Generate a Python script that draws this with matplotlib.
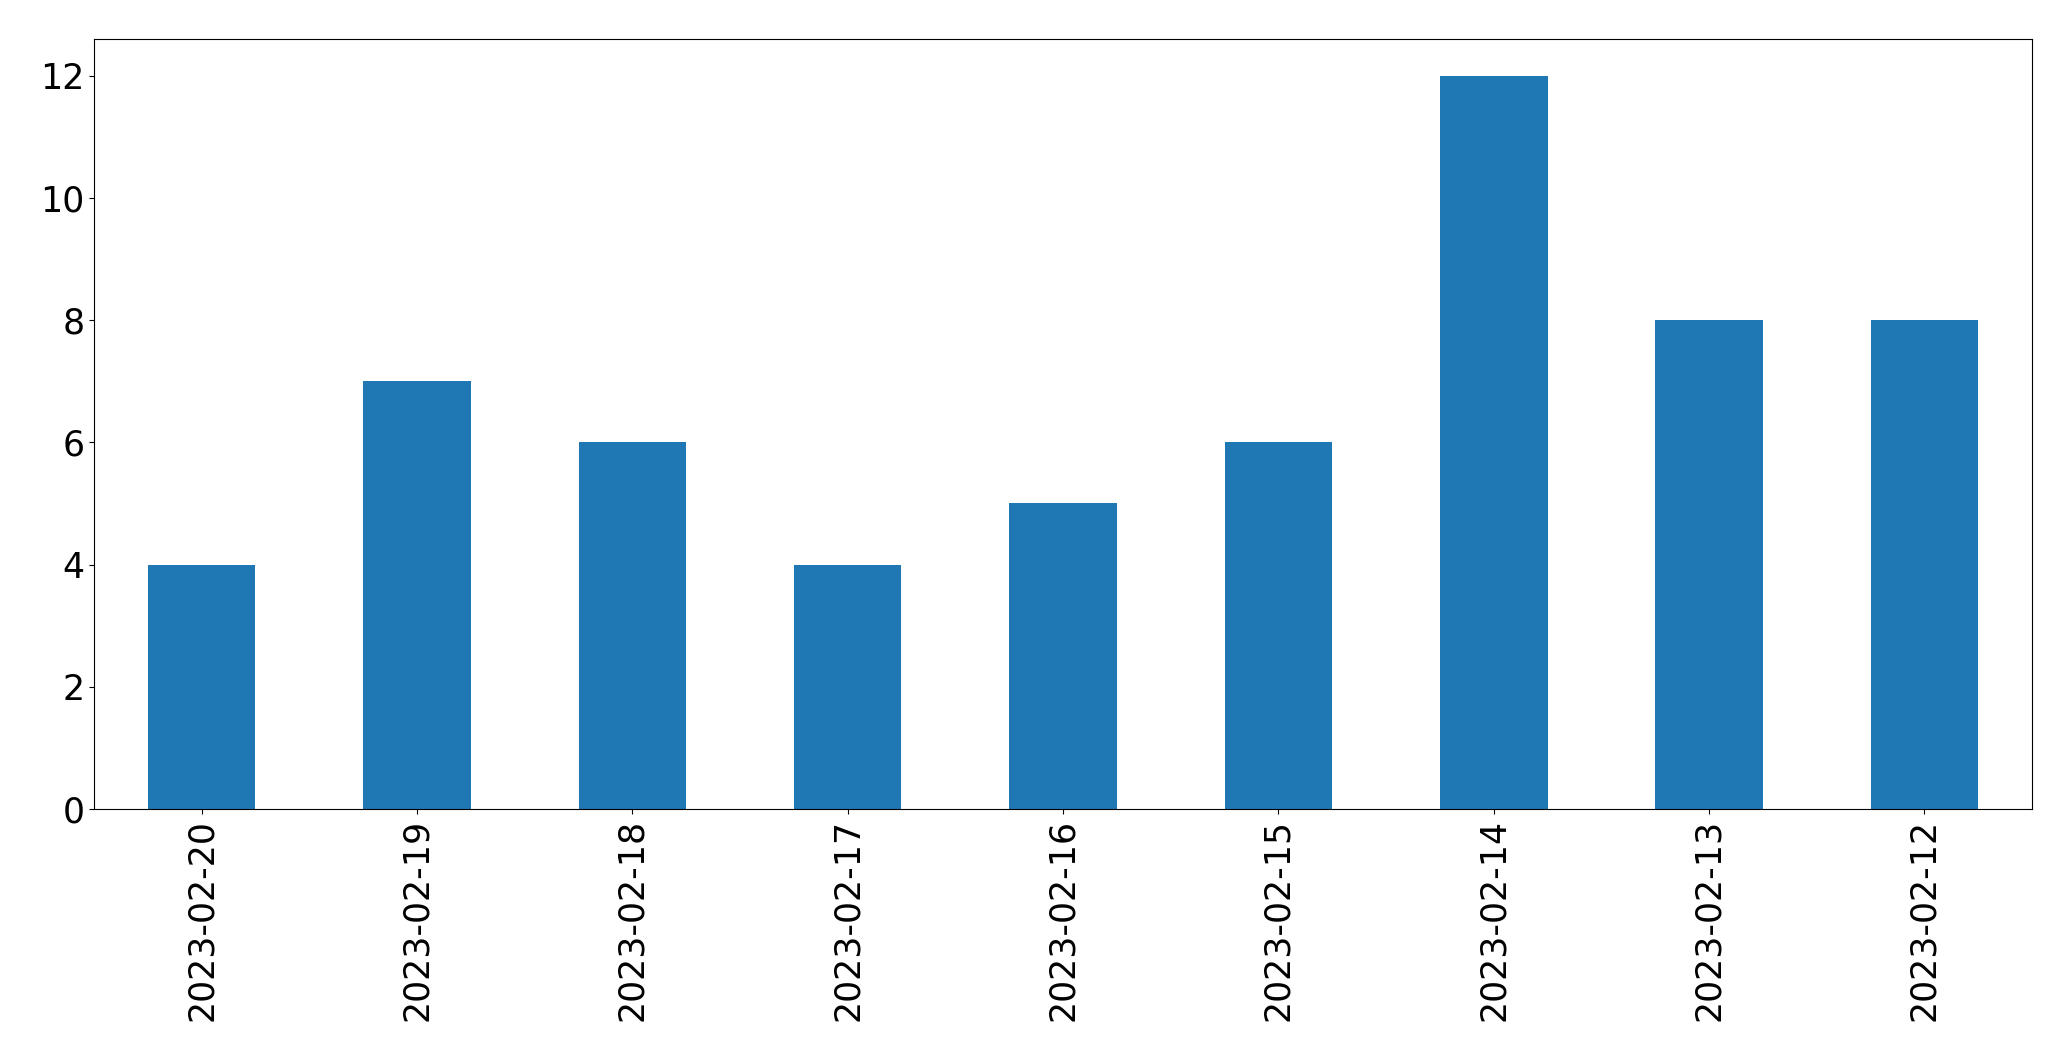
import matplotlib
matplotlib.use("Agg")
import matplotlib.pyplot as plt
import pandas as pd

datas = ["2023-02-20", "2023-02-19", "2023-02-18", "2023-02-17", "2023-02-16",
         "2023-02-15", "2023-02-14", "2023-02-13", "2023-02-12"]
totais = [4, 7, 6, 4, 5, 6, 12, 8, 8]

serie = pd.Series(totais, index=datas)

fig, ax = plt.subplots(figsize=(20.71, 10.61), dpi=100)
fig.subplots_adjust(left=94/2071, right=2032/2071, bottom=(1061-809)/1061, top=(1061-39)/1061)
serie.plot(kind="bar", ax=ax, color="#1f77b4")
ax.tick_params(axis="both", labelsize=25)
ax.tick_params(axis="x", rotation=90)

fig.savefig("out.png", dpi=100)
